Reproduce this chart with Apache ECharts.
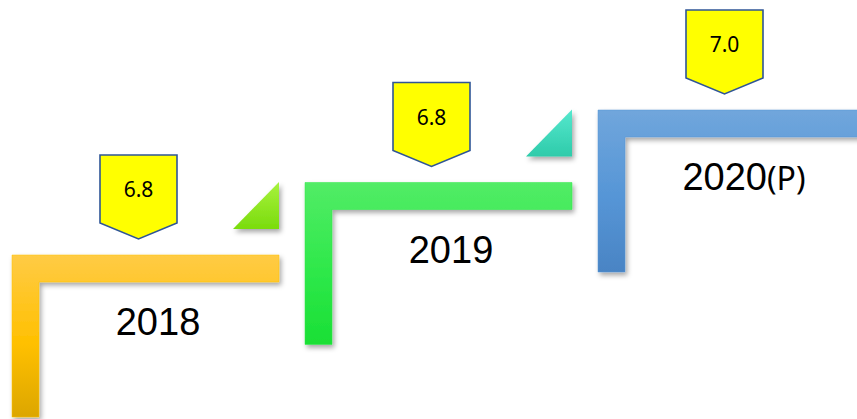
<!DOCTYPE html>
<html>
<head>
<meta charset="utf-8">
<script src="https://cdn.jsdelivr.net/npm/echarts@6/dist/echarts.min.js"></script>
<style>
html,body{margin:0;padding:0;background:#fff;}
#chart{width:857px;height:419px;}
</style>
</head>
<body>
<div id="chart"></div>
<script>
// ---- data ----
const years = ['2018', '2019', '2020'];
const yearNotes = ['', '', '(P)'];
const values = [6.8, 6.8, 7.0];
const stepLevels = [0, 1, 2];

// ---- styles ----
const stepColors = [
  ['#FFCB45', '#FFC000', '#DCA600'],
  ['#52EC66', '#2EE84A', '#1ADF35'],
  ['#70A6DC', '#5595D6', '#4A84C4']
];
const triColors = [
  ['#A8F23E', '#7ADC0C'],
  ['#56E8CE', '#2ECBAA']
];

const W = 267, T = 27, H = 162;

function renderItem(params, api) {
  const i = api.value(3);
  const p = api.coord([api.value(0), api.value(1)]);
  const bx = p[0] - 146, by = p[1] - 67;
  const c = stepColors[i];
  const children = [];
  children.push({
    type: 'polygon',
    shape: { points: [[bx, by], [bx + W, by], [bx + W, by + T], [bx + T, by + T], [bx + T, by + H], [bx, by + H]] },
    style: {
      fill: new echarts.graphic.LinearGradient(0, 0, 0, 1, [
        { offset: 0, color: c[0] }, { offset: 0.55, color: c[1] }, { offset: 1, color: c[2] }
      ]),
      stroke: c[1], lineWidth: 0.5,
      shadowBlur: 5, shadowOffsetX: 2, shadowOffsetY: 3, shadowColor: 'rgba(0,0,0,0.35)'
    }
  });
  if (i < triColors.length) {
    const t = triColors[i];
    children.push({
      type: 'polygon',
      shape: { points: [[bx + 221, by - 26], [bx + W, by - 26], [bx + W, by - 73]] },
      style: {
        fill: new echarts.graphic.LinearGradient(0, 0, 0, 1, [
          { offset: 0, color: t[0] }, { offset: 1, color: t[1] }
        ]),
        shadowBlur: 5, shadowOffsetX: 2, shadowOffsetY: 3, shadowColor: 'rgba(0,0,0,0.35)'
      }
    });
  }
  children.push({
    type: 'polygon',
    shape: { points: [[bx + 88, by - 100], [bx + 165, by - 100], [bx + 165, by - 32], [bx + 126.5, by - 16], [bx + 88, by - 32]] },
    style: { fill: '#FFFF00', stroke: '#2F5597', lineWidth: 1.6 }
  });
  children.push({
    type: 'text',
    x: bx + 126.5, y: by - 66,
    style: {
      text: values[i].toFixed(1),
      fontFamily: 'Noto Sans', fontSize: 21, fill: '#000',
      align: 'center', verticalAlign: 'middle'
    }
  });
  const note = yearNotes[i];
  children.push({
    type: 'text',
    x: p[0], y: p[1],
    style: {
      text: note ? '{a|' + years[i] + '}{b|' + note + '}' : '{a|' + years[i] + '}',
      align: 'center', verticalAlign: 'middle', fill: '#000',
      rich: {
        a: { fontFamily: 'Liberation Sans', fontSize: 38, fill: '#000', verticalAlign: 'middle' },
        b: { fontFamily: 'Noto Sans', fontSize: 32, fill: '#000', verticalAlign: 'middle' }
      }
    }
  });
  return { type: 'group', children: children };
}

const chart = echarts.init(document.getElementById('chart'), null, { renderer: 'svg' });
chart.setOption({
  animation: false,
  backgroundColor: '#fff',
  grid: { left: 11.5, width: 820.4, top: 140.75, bottom: 60.75 },
  xAxis: { type: 'value', min: -0.5, max: 2.3, show: false },
  yAxis: { type: 'value', min: -0.5, max: 2.5, show: false },
  series: [{
    type: 'custom',
    clip: false,
    renderItem: renderItem,
    data: years.map((y, i) => [i, stepLevels[i], values[i], i])
  }]
});
</script>
</body>
</html>
